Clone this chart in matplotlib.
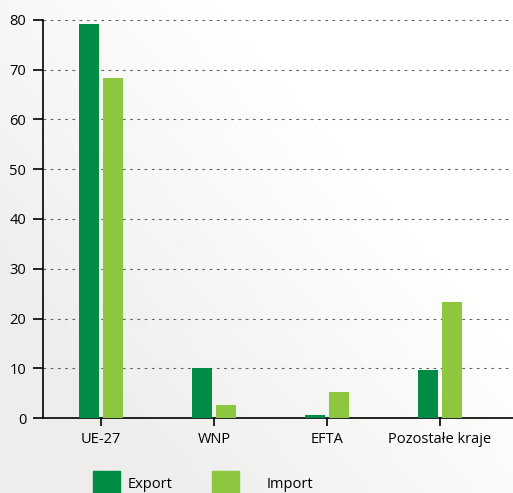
import numpy as np
import matplotlib.pyplot as plt
from matplotlib.patches import Rectangle

# data
categories = ["UE-27", "WNP", "EFTA", "Pozostałe kraje"]
export_vals = [79.2, 10.0, 0.6, 9.6]
import_vals = [68.3, 2.6, 5.2, 23.3]
yticks = [0, 10, 20, 30, 40, 50, 60, 70, 80]

dark_green = "#008c45"
light_green = "#8dc63f"

plt.rcParams['font.family'] = ['Open Sans', 'DejaVu Sans']

W, H = 513, 493
fig = plt.figure(figsize=(W / 100, H / 100), dpi=100)

# soft grey background: white on top/right, greyer to the lower left
bg = fig.add_axes([0, 0, 1, 1], zorder=-10)
xx = np.linspace(0, 1, 200)
yy = np.linspace(0, 1, 200)
X, Y = np.meshgrid(xx, yy)
t = np.clip(X * 1.1 + (1 - Y) * 0.9 - 0.35, 0, 1)  # Y: 0 top, 1 bottom
shade = 0.93 + 0.07 * t
bg.imshow(np.dstack([shade, shade, shade * 0.995]), extent=[0, 1, 0, 1],
          aspect='auto', origin='upper')
bg.axis('off')

ax = fig.add_axes([43 / W, 1 - 418 / H, (515 - 43) / W, (418 - 20) / H])
ax.patch.set_alpha(0)

x = np.arange(len(categories))
w = 0.177
ax.bar(x - 0.106, export_vals, w, color=dark_green, zorder=3)
ax.bar(x + 0.106, import_vals, w, color=light_green, zorder=3)

ax.set_xlim(-0.513, 3.665)
ax.set_ylim(0, 80)
ax.set_yticks(yticks)
ax.set_xticks(x)
ax.set_xticklabels(categories)
ax.tick_params(axis='both', labelsize=10.5, colors='black', width=1.2, length=7,
               direction='out', pad=5)
ax.tick_params(axis='x', length=6, pad=4)

for y in yticks[1:]:
    ax.axhline(y, color='#666666', lw=0.8, ls=(0, (2.5, 4)), zorder=1)

for s in ['top', 'right']:
    ax.spines[s].set_visible(False)
ax.spines['left'].set_linewidth(1.2)
ax.spines['bottom'].set_linewidth(1.2)

# legend drawn by hand in figure pixels
def fx(px):
    return px / W

def fy(py):
    return 1 - py / H

fig.patches.append(Rectangle((fx(93), fy(496)), 27 / W, 25 / H, color=dark_green,
                             transform=fig.transFigure))
fig.patches.append(Rectangle((fx(212), fy(496)), 27 / W, 25 / H, color=light_green,
                             transform=fig.transFigure))
fig.text(fx(128), fy(484), "Export", fontsize=10.5, va='center')
fig.text(fx(267), fy(484), "Import", fontsize=10.5, va='center')

fig.savefig("out.png", dpi=100)
